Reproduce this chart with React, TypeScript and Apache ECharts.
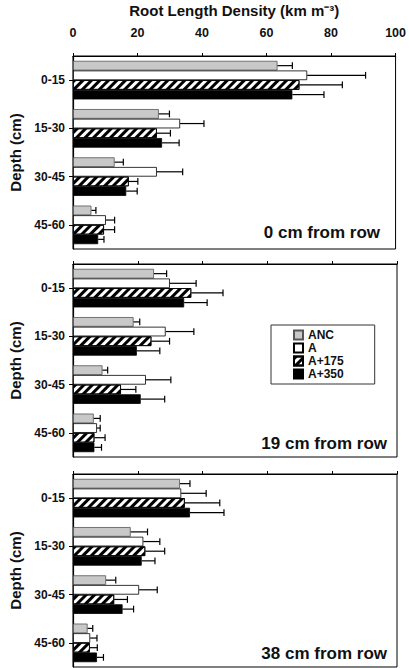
import React, { useEffect, useRef } from 'react';
import * as echarts from 'echarts';

const depths = ['0-15', '15-30', '30-45', '45-60'];
const treatments = ['ANC', 'A', 'A+175', 'A+350'];
const panelLabels = ['0 cm from row', '19 cm from row', '38 cm from row'];
const axisTitle = 'Root Length Density (km m\u207B\u00B3)';
const depthTitle = 'Depth (cm)';
const xMin = 0;
const xMax = 100;
const xStep = 20;

// 0 cm from row
const anc0 = [63.4, 26.6, 12.9, 5.7];
const anc0Err = [4.6, 3.3, 2.7, 1.4];
const a0 = [72.6, 33.2, 26.0, 10.2];
const a0Err = [18.1, 7.4, 8.0, 2.7];
const a175_0 = [70.2, 26.0, 17.3, 9.6];
const a175_0Err = [13.3, 4.2, 2.8, 3.3];
const a350_0 = [68.0, 27.6, 16.5, 7.8];
const a350_0Err = [9.8, 5.3, 3.4, 1.8];

// 19 cm from row
const anc19 = [25.0, 18.7, 9.1, 6.4];
const anc19Err = [3.9, 1.9, 1.6, 2.0];
const a19 = [29.9, 28.6, 22.5, 7.4];
const a19Err = [8.1, 8.7, 7.7, 1.0];
const a175_19 = [36.5, 24.2, 14.8, 6.6];
const a175_19Err = [9.8, 5.6, 4.6, 3.3];
const a350_19 = [34.3, 19.7, 20.9, 6.6];
const a350_19Err = [7.1, 7.1, 7.4, 2.2];

// 38 cm from row
const anc38 = [33.0, 17.8, 10.2, 4.5];
const anc38Err = [3.1, 5.2, 3.0, 1.6];
const a38 = [33.4, 21.7, 20.4, 5.3];
const a38Err = [7.7, 5.1, 5.6, 2.1];
const a175_38 = [34.5, 22.3, 12.7, 5.2];
const a175_38Err = [10.8, 6.0, 4.1, 2.3];
const a350_38 = [36.1, 21.2, 15.3, 7.4];
const a350_38Err = [10.5, 4.1, 3.4, 2.0];

const panelMeans = [
  [anc0, a0, a175_0, a350_0],
  [anc19, a19, a175_19, a350_19],
  [anc38, a38, a175_38, a350_38],
];
const panelErrs = [
  [anc0Err, a0Err, a175_0Err, a350_0Err],
  [anc19Err, a19Err, a175_19Err, a350_19Err],
  [anc38Err, a38Err, a175_38Err, a350_38Err],
];

const FONT = 'Liberation Sans, Arial, sans-serif';
const CAT_GAP = 0.2;

const grids = [
  { left: 72, top: 56, width: 325, height: 193 },
  { left: 72, top: 264, width: 325, height: 193 },
  { left: 72, top: 474, width: 325, height: 193 },
];
const labelPos = [
  { x: 380, y: 232 },
  { x: 387, y: 443 },
  { x: 387, y: 653 },
];

const styles = [
  { color: '#c8c8c8', borderColor: '#555', borderWidth: 0.8 },
  { color: '#ffffff', borderColor: '#000', borderWidth: 0.8 },
  {
    color: '#ffffff',
    borderColor: '#000',
    borderWidth: 0.8,
    decal: {
      symbol: 'rect',
      symbolSize: 1,
      dashArrayX: [1, 0],
      dashArrayY: [2.5, 3],
      rotation: -Math.PI / 4,
      color: '#000',
    },
  },
  { color: '#000000', borderColor: '#000', borderWidth: 0.8 },
];

export default function App() {
  const ref = useRef<HTMLDivElement>(null);
  useEffect(() => {
    if (!ref.current) return;
    const chart = echarts.init(ref.current, null, { renderer: 'svg' });
    const series: any[] = [];
    panelMeans.forEach((means, p) => {
      means.forEach((vals, t) => {
        series.push({
          type: 'bar',
          name: treatments[t],
          xAxisIndex: p,
          yAxisIndex: p,
          data: vals,
          barGap: '0%',
          barCategoryGap: CAT_GAP * 100 + '%',
          itemStyle: styles[t],
          z: 2,
        });
      });
      const errData: number[][] = [];
      means.forEach((vals, t) => {
        vals.forEach((v, c) => {
          errData.push([c, t, v, v + panelErrs[p][t][c]]);
        });
      });
      series.push({
        type: 'custom',
        xAxisIndex: p,
        yAxisIndex: p,
        z: 5,
        encode: { x: [2, 3], y: 0 },
        data: errData,
        renderItem: (params: any, api: any) => {
          const cat = api.value(0);
          const t = api.value(1);
          const m = api.value(2);
          const e = api.value(3);
          const p0 = api.coord([m, cat]);
          const p1 = api.coord([e, cat]);
          const band = api.size([0, 1])[1];
          const groupH = band * (1 - CAT_GAP);
          const bw = groupH / 4;
          const y = p0[1] - groupH / 2 + (t + 0.5) * bw;
          const cap = bw * 0.7;
          const st = { stroke: '#000', lineWidth: 1.2 };
          return {
            type: 'group',
            children: [
              { type: 'line', shape: { x1: p0[0], y1: y, x2: p1[0], y2: y }, style: st },
              { type: 'line', shape: { x1: p1[0], y1: y - cap / 2, x2: p1[0], y2: y + cap / 2 }, style: st },
            ],
          };
        },
      });
    });

    const option: any = {
      animation: false,
      backgroundColor: '#fff',
      textStyle: { fontFamily: FONT },
      grid: grids.map((g) => ({ ...g, show: true, borderColor: '#000', borderWidth: 1, backgroundColor: 'transparent' })),
      xAxis: grids.map((_, i) => ({
        type: 'value',
        gridIndex: i,
        position: 'top',
        min: xMin,
        max: xMax,
        interval: xStep,
        name: i === 0 ? axisTitle : '',
        nameLocation: 'middle',
        nameGap: 38,
        nameTextStyle: { fontFamily: FONT, fontWeight: 'bold', fontSize: 15, color: '#111' },
        axisLine: { show: true, lineStyle: { color: '#000', width: 1.2 } },
        axisTick: { show: true, length: 3, lineStyle: { color: '#000' } },
        splitLine: { show: false },
        axisLabel: {
          show: i === 0,
          fontFamily: FONT,
          fontWeight: 'bold',
          fontSize: 12.5,
          color: '#111',
          margin: 17,
        },
      })),
      yAxis: grids.map((_, i) => ({
        type: 'category',
        gridIndex: i,
        data: depths,
        inverse: true,
        name: depthTitle,
        nameLocation: 'middle',
        nameGap: 50,
        nameTextStyle: { fontFamily: FONT, fontWeight: 'bold', fontSize: 15, color: '#111' },
        axisLine: { show: true, lineStyle: { color: '#000', width: 1.2 } },
        axisTick: { show: true, alignWithLabel: true, length: 4, lineStyle: { color: '#000' } },
        axisLabel: { fontFamily: FONT, fontWeight: 'bold', fontSize: 12, color: '#111', margin: 8 },
        splitLine: { show: false },
      })),
      legend: {
        data: treatments,
        orient: 'vertical',
        left: 271,
        top: 325,
        padding: [4, 31, 4, 22],
        itemWidth: 9,
        itemHeight: 9,
        itemGap: 1,
        icon: 'rect',
        borderColor: '#333',
        borderWidth: 1,
        selectedMode: false,
        textStyle: { fontFamily: FONT, fontWeight: 'bold', fontSize: 12, color: '#111' },
      },
      graphic: panelLabels.map((txt, i) => ({
        type: 'text',
        x: labelPos[i].x,
        y: labelPos[i].y,
        z: 10,
        style: {
          text: txt,
          textAlign: 'right',
          textVerticalAlign: 'middle',
          font: `bold 17px ${FONT}`,
          fill: '#111',
        },
      })),
      series,
    };
    chart.setOption(option);
    return () => chart.dispose();
  }, []);
  return <div ref={ref} style={{ position: 'absolute', left: 0, top: 0, width: 409, height: 668 }} />;
}
